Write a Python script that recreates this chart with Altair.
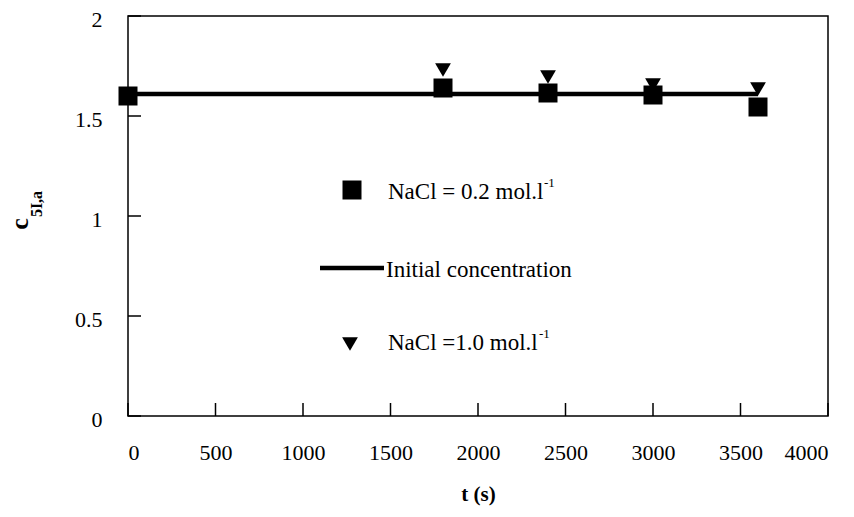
import altair as alt
import pandas as pd

# Data
t_02 = [0, 1800, 2400, 3000, 3600]
c_02 = [1.60, 1.64, 1.615, 1.605, 1.545]
t_10 = [0, 1800, 2400, 3000, 3600]
c_10 = [1.60, 1.73, 1.695, 1.655, 1.635]
t_init = [0, 3600]
c_init = [1.61, 1.61]
x_ticks = [0, 500, 1000, 1500, 2000, 2500, 3000, 3500, 4000]
y_ticks = [0, 0.5, 1, 1.5, 2]

FONT = "Liberation Serif"
FS = 22
LFS = 23

df02 = pd.DataFrame({"t": t_02, "c": c_02})
df10 = pd.DataFrame({"t": t_10, "c": c_10})
dfi = pd.DataFrame({"t": t_init, "c": c_init})
dfx = pd.DataFrame({"v": x_ticks})
dfy = pd.DataFrame({"v": y_ticks})

xs = alt.Scale(domain=[0, 4000], nice=False, zero=False)
ys = alt.Scale(domain=[0, 2], nice=False, zero=False)

xax = alt.Axis(values=x_ticks, ticks=False, grid=False, domain=False,
               labelFont=FONT, labelFontSize=FS, labelColor="black", labelPadding=26,
               title="t (s)", titleFont=FONT, titleFontSize=21, titleFontWeight="bold",
               titleColor="black", titlePadding=20, format="d")
yax = alt.Axis(values=y_ticks, ticks=False, grid=False, domain=False,
               labelFont=FONT, labelFontSize=FS, labelColor="black", labelPadding=26,
               labelOffset=3, format="~g", title=None)

line = alt.Chart(dfi).mark_line(color="black", strokeWidth=4.5).encode(
    x=alt.X("t:Q", scale=xs, axis=xax),
    y=alt.Y("c:Q", scale=ys, axis=yax),
)
tri = alt.Chart(df10).mark_point(shape="triangle-down", filled=True, color="black",
                                  opacity=1, size=250).encode(
    x=alt.X("t:Q", scale=xs), y=alt.Y("c:Q", scale=ys))
sq = alt.Chart(df02).mark_point(shape="square", filled=True, color="black",
                                 opacity=1, size=361).encode(
    x=alt.X("t:Q", scale=xs), y=alt.Y("c:Q", scale=ys))

xt = alt.Chart(dfx).mark_rule(color="black", strokeWidth=1.5).encode(
    x=alt.X("v:Q", scale=xs), y=alt.value(400), y2=alt.value(387))
yt = alt.Chart(dfy).mark_rule(color="black", strokeWidth=1.5).encode(
    y=alt.Y("v:Q", scale=ys), x=alt.value(0), x2=alt.value(13))

# Manual legend
leg_sq = alt.Chart(pd.DataFrame({"a": [0]})).mark_point(
    shape="square", filled=True, color="black", opacity=1, size=361).encode(
    x=alt.value(224), y=alt.value(174))
leg_tri = alt.Chart(pd.DataFrame({"a": [0]})).mark_point(
    shape="triangle-down", filled=True, color="black", opacity=1, size=250).encode(
    x=alt.value(222), y=alt.value(328))
leg_line = alt.Chart(pd.DataFrame({"a": [0]})).mark_rule(
    color="black", strokeWidth=4.5).encode(
    x=alt.value(192), x2=alt.value(256), y=alt.value(252))

def txt(s, x, y, size=LFS, weight="normal", angle=0, align="left"):
    return alt.Chart(pd.DataFrame({"s": [s]})).mark_text(
        font=FONT, fontSize=size, fontWeight=weight, color="black",
        align=align, baseline="middle", angle=angle).encode(
        text="s:N", x=alt.value(x), y=alt.value(y))

labels = [
    txt("NaCl = 0.2 mol.l", 260, 176),
    txt("-1", 416, 167, size=13),
    txt("Initial concentration", 258, 254),
    txt("NaCl =1.0 mol.l", 260, 327),
    txt("-1", 411, 318, size=13),
    txt("c", -108, 208, size=26, weight="bold", angle=270, align="center"),
    txt("5I,a", -91, 188, size=16, weight="bold", angle=270, align="center"),
]

chart = alt.layer(line, tri, sq, xt, yt, leg_line, leg_sq, leg_tri, *labels).properties(
    width=700, height=400,
    autosize=alt.AutoSizeParams(type="none"),
    padding={"left": 120, "top": 8, "right": 18, "bottom": 93},
    background="white",
).configure_view(stroke="black", strokeWidth=1.5)

chart.save("out.html", embed_options={"renderer": "svg", "actions": False})
